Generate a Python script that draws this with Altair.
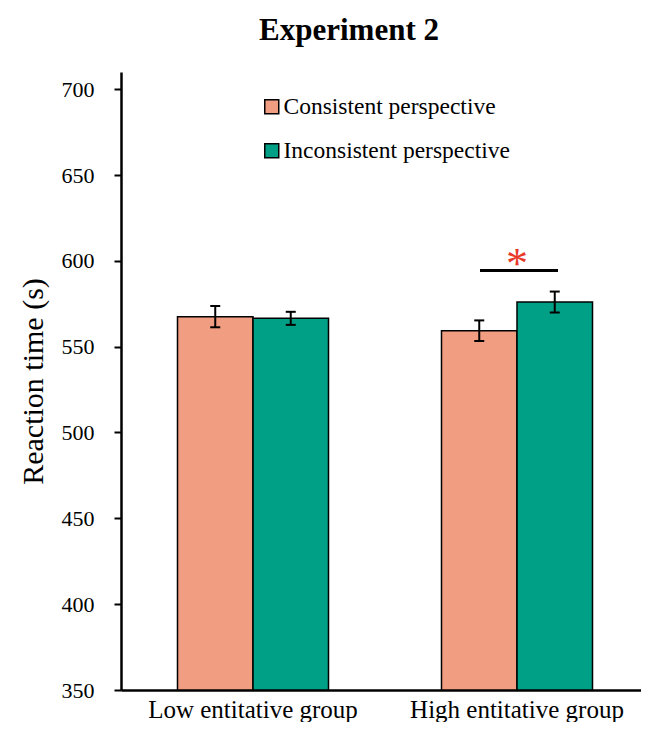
import altair as alt
import pandas as pd

groups = ["Low entitative group", "High entitative group"]
conditions = ["Consistent perspective", "Inconsistent perspective"]
means_consistent = [567.5, 559.3]
means_inconsistent = [566.5, 576.0]
err_consistent = [6.2, 6.0]
err_inconsistent = [3.8, 6.1]
colors = ["#F09D81", "#00A087"]
y_ticks = [350, 400, 450, 500, 550, 600, 650, 700]
sig_group = ["High entitative group"]
sig_y = [594.4]
sig_text = ["*"]

FONT = "Liberation Serif, Times New Roman, Times, DejaVu Serif, serif"

rows = []
for i, g in enumerate(groups):
    rows.append({"group": g, "condition": conditions[0], "mean": means_consistent[i],
                 "lower": means_consistent[i] - err_consistent[i],
                 "upper": means_consistent[i] + err_consistent[i]})
    rows.append({"group": g, "condition": conditions[1], "mean": means_inconsistent[i],
                 "lower": means_inconsistent[i] - err_inconsistent[i],
                 "upper": means_inconsistent[i] + err_inconsistent[i]})
df = pd.DataFrame(rows)
sig_df = pd.DataFrame({"group": sig_group, "y": sig_y, "text": sig_text})

x_enc = alt.X("group:N", sort=groups,
              scale=alt.Scale(paddingInner=0.428, paddingOuter=0.214),
              axis=alt.Axis(title=None, labelAngle=0, ticks=False, labelPadding=7,
                            labelFontSize=25, labelFont=FONT, labelColor="black",
                            labelLimit=0,
                            domainWidth=2.5, domainColor="black"))
xoff_enc = alt.XOffset("condition:N", sort=conditions,
                       scale=alt.Scale(paddingInner=0, paddingOuter=0))
y_scale = alt.Scale(domain=[350, 710], nice=False, zero=False)

bars = alt.Chart(df).mark_bar(stroke="black", strokeWidth=1.5).encode(
    x=x_enc,
    xOffset=xoff_enc,
    y=alt.Y("mean:Q", scale=y_scale,
            axis=alt.Axis(values=y_ticks, grid=False, tickSize=7, tickWidth=2,
                          tickColor="black", labelPadding=20, labelFontSize=22,
                          labelFont=FONT, labelColor="black", domainWidth=2.5,
                          domainColor="black", title="Reaction time (s)",
                          titleFont=FONT, titleFontSize=30, titleFontWeight="normal",
                          titleColor="black", titleX=-79, titleY=309, titleAngle=-90,
                          titleBaseline="alphabetic", titleAlign="center")),
    y2=alt.datum(350),
    color=alt.Color("condition:N", sort=conditions,
                    scale=alt.Scale(domain=conditions, range=colors),
                    legend=alt.Legend(title=None, orient="none", legendX=139, legendY=23,
                                      symbolType="square", symbolSize=196,
                                      symbolStrokeColor="black", symbolStrokeWidth=1.5,
                                      symbolOpacity=1, labelLimit=0,
                                      labelFont=FONT, labelFontSize=23.5, labelColor="black",
                                      labelOffset=0, rowPadding=19, padding=0)),
)

rules = alt.Chart(df).mark_rule(color="black", strokeWidth=2).encode(
    x=alt.X("group:N", sort=groups), xOffset=alt.XOffset("condition:N", sort=conditions),
    y="lower:Q", y2="upper:Q")
caps_lo = alt.Chart(df).mark_tick(color="black", size=10, thickness=2, opacity=1).encode(
    x=alt.X("group:N", sort=groups), xOffset=alt.XOffset("condition:N", sort=conditions),
    y="lower:Q")
caps_hi = alt.Chart(df).mark_tick(color="black", size=10, thickness=2, opacity=1).encode(
    x=alt.X("group:N", sort=groups), xOffset=alt.XOffset("condition:N", sort=conditions),
    y="upper:Q")

sig_line = alt.Chart(sig_df).mark_tick(color="black", size=78, thickness=3, opacity=1,
                                       xOffset=2).encode(
    x=alt.X("group:N", sort=groups), y="y:Q")
sig_star = alt.Chart(sig_df).mark_text(color="#E8392B", fontSize=44, font=FONT,
                                       baseline="alphabetic", dy=8).encode(
    x=alt.X("group:N", sort=groups), y="y:Q", text="text:N")

chart = alt.layer(bars, rules, caps_lo, caps_hi, sig_line, sig_star).properties(
    width=528, height=618,
    title=alt.TitleParams("Experiment 2", font=FONT, fontSize=31, fontWeight="bold",
                          color="black", anchor="middle", frame="group", dx=-36,
                          offset=1, baseline="alphabetic"),
    autosize=alt.AutoSizeParams(type="none"),
    padding={"left": 113, "top": 64, "right": -8, "bottom": 32},
).configure_view(stroke=None)

chart.save("out.html", embed_options={"renderer": "svg", "actions": False})
